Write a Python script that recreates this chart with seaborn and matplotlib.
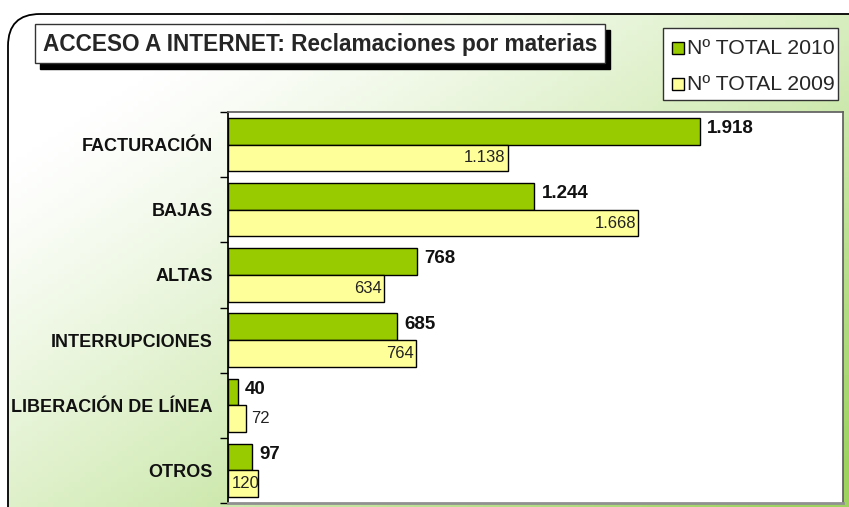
import numpy as np
import pandas as pd
import matplotlib
matplotlib.use("Agg")
import matplotlib.pyplot as plt
import seaborn as sns
from matplotlib.patches import FancyBboxPatch, Rectangle

# data
categories = ["FACTURACIÓN", "BAJAS", "ALTAS", "INTERRUPCIONES",
              "LIBERACIÓN DE LÍNEA", "OTROS"]
total_2010 = [1918, 1244, 768, 685, 40, 97]
total_2009 = [1138, 1668, 634, 764, 72, 120]
series = ["Nº TOTAL 2010", "Nº TOTAL 2009"]
colors = ["#99cc00", "#ffff99"]


def fmt(v):
    # spanish thousands separator
    return f"{v:,}".replace(",", ".")


df = pd.DataFrame({
    "cat": categories * 2,
    "val": total_2010 + total_2009,
    "serie": [series[0]] * len(categories) + [series[1]] * len(categories),
})

sns.set_theme(style="white")
plt.rcParams["font.family"] = ["Liberation Sans", "DejaVu Sans"]

W, H = 849, 507
fig = plt.figure(figsize=(W / 100, H / 100), dpi=100)

# background: rounded frame with a white->green gradient
bg = fig.add_axes([0, 0, 1, 1])
bg.set_xlim(0, W)
bg.set_ylim(H, 0)
bg.axis("off")
frame = FancyBboxPatch((8, 14), 880, 540, boxstyle="round,pad=0,rounding_size=32",
                       facecolor="none", edgecolor="black", lw=1.3, zorder=3)
bg.add_patch(frame)
yy, xx = np.mgrid[0:1:100j, 0:1:160j]
t = np.clip(0.65 * xx + 0.6 * yy - 0.2, 0, 1) ** 1.2
c0 = np.array([1.0, 1.0, 1.0])
c1 = np.array([0.62, 0.83, 0.38])
img = c0 + (c1 - c0) * t[..., None]
im = bg.imshow(img, extent=(0, W, H, 0), aspect="auto", zorder=1)
im.set_clip_path(frame)

# title box with shadow
bg.add_patch(Rectangle((40, 30), 570, 39, facecolor="black", edgecolor="black", zorder=4))
bg.add_patch(Rectangle((35, 24), 570, 39, facecolor="white", edgecolor="#333333", lw=1, zorder=5))
bg.text(43, 45, "ACCESO A INTERNET: Reclamaciones por materias", fontsize=16.3,
        fontweight="bold", va="center", ha="left", zorder=6)

# legend box
bg.add_patch(Rectangle((663, 28), 175, 72, facecolor="white", edgecolor="#333333", lw=1, zorder=5))
for i, (s, c) in enumerate(zip(series, colors)):
    y = 48 + i * 36
    bg.add_patch(Rectangle((672, y - 6), 12, 12, facecolor=c, edgecolor="black", lw=1, zorder=6))
    bg.text(687, y + 1, s, fontsize=15.3, va="center", ha="left", zorder=6)

# plot area
ax = fig.add_axes([228 / W, 1 - 503 / H, 615 / W, 391 / H])
ax.set_facecolor("white")
sns.barplot(data=df, y="cat", x="val", hue="serie", palette=colors, order=categories,
            hue_order=series, orient="h", width=0.82, saturation=1, edgecolor="black",
            linewidth=1, legend=False, ax=ax)
ax.set_xlim(0, 2500)
ax.set_ylim(len(categories) - 0.5, -0.5)
ax.set_xlabel("")
ax.set_ylabel("")
ax.set_xticks([])
ax.tick_params(axis="y", which="major", length=0, pad=11)
ax.set_yticks(np.arange(len(categories) + 1) - 0.5, minor=True)
ax.tick_params(axis="y", which="minor", length=6, color="black", width=1, left=True)
for lab in ax.get_yticklabels():
    lab.set_fontweight("bold")
    lab.set_fontsize(13)
    lab.set_color("#111111")
for side in ["top", "right"]:
    ax.spines[side].set_color("#606060")
ax.spines["bottom"].set_color("#909090")
ax.spines["bottom"].set_linewidth(2)
ax.spines["left"].set_color("black")

off = 0.205
for i, (a, b) in enumerate(zip(total_2010, total_2009)):
    ax.text(a + 30, i - off - 0.04, fmt(a), fontsize=13.5, fontweight="bold",
            va="center", ha="left", color="#111111")
    if b < 100:
        # too small: label just past the bar end
        ax.text(b + 20, i + off, fmt(b), fontsize=12, va="center", ha="left", color="#222222")
    elif b < 300:
        # label does not fit inside, starts near the axis
        ax.text(15, i + off, fmt(b), fontsize=12, va="center", ha="left", color="#222222")
    else:
        ax.text(b - 10, i + off, fmt(b), fontsize=12, va="center", ha="right", color="#222222")

fig.savefig("out.png", dpi=100)
